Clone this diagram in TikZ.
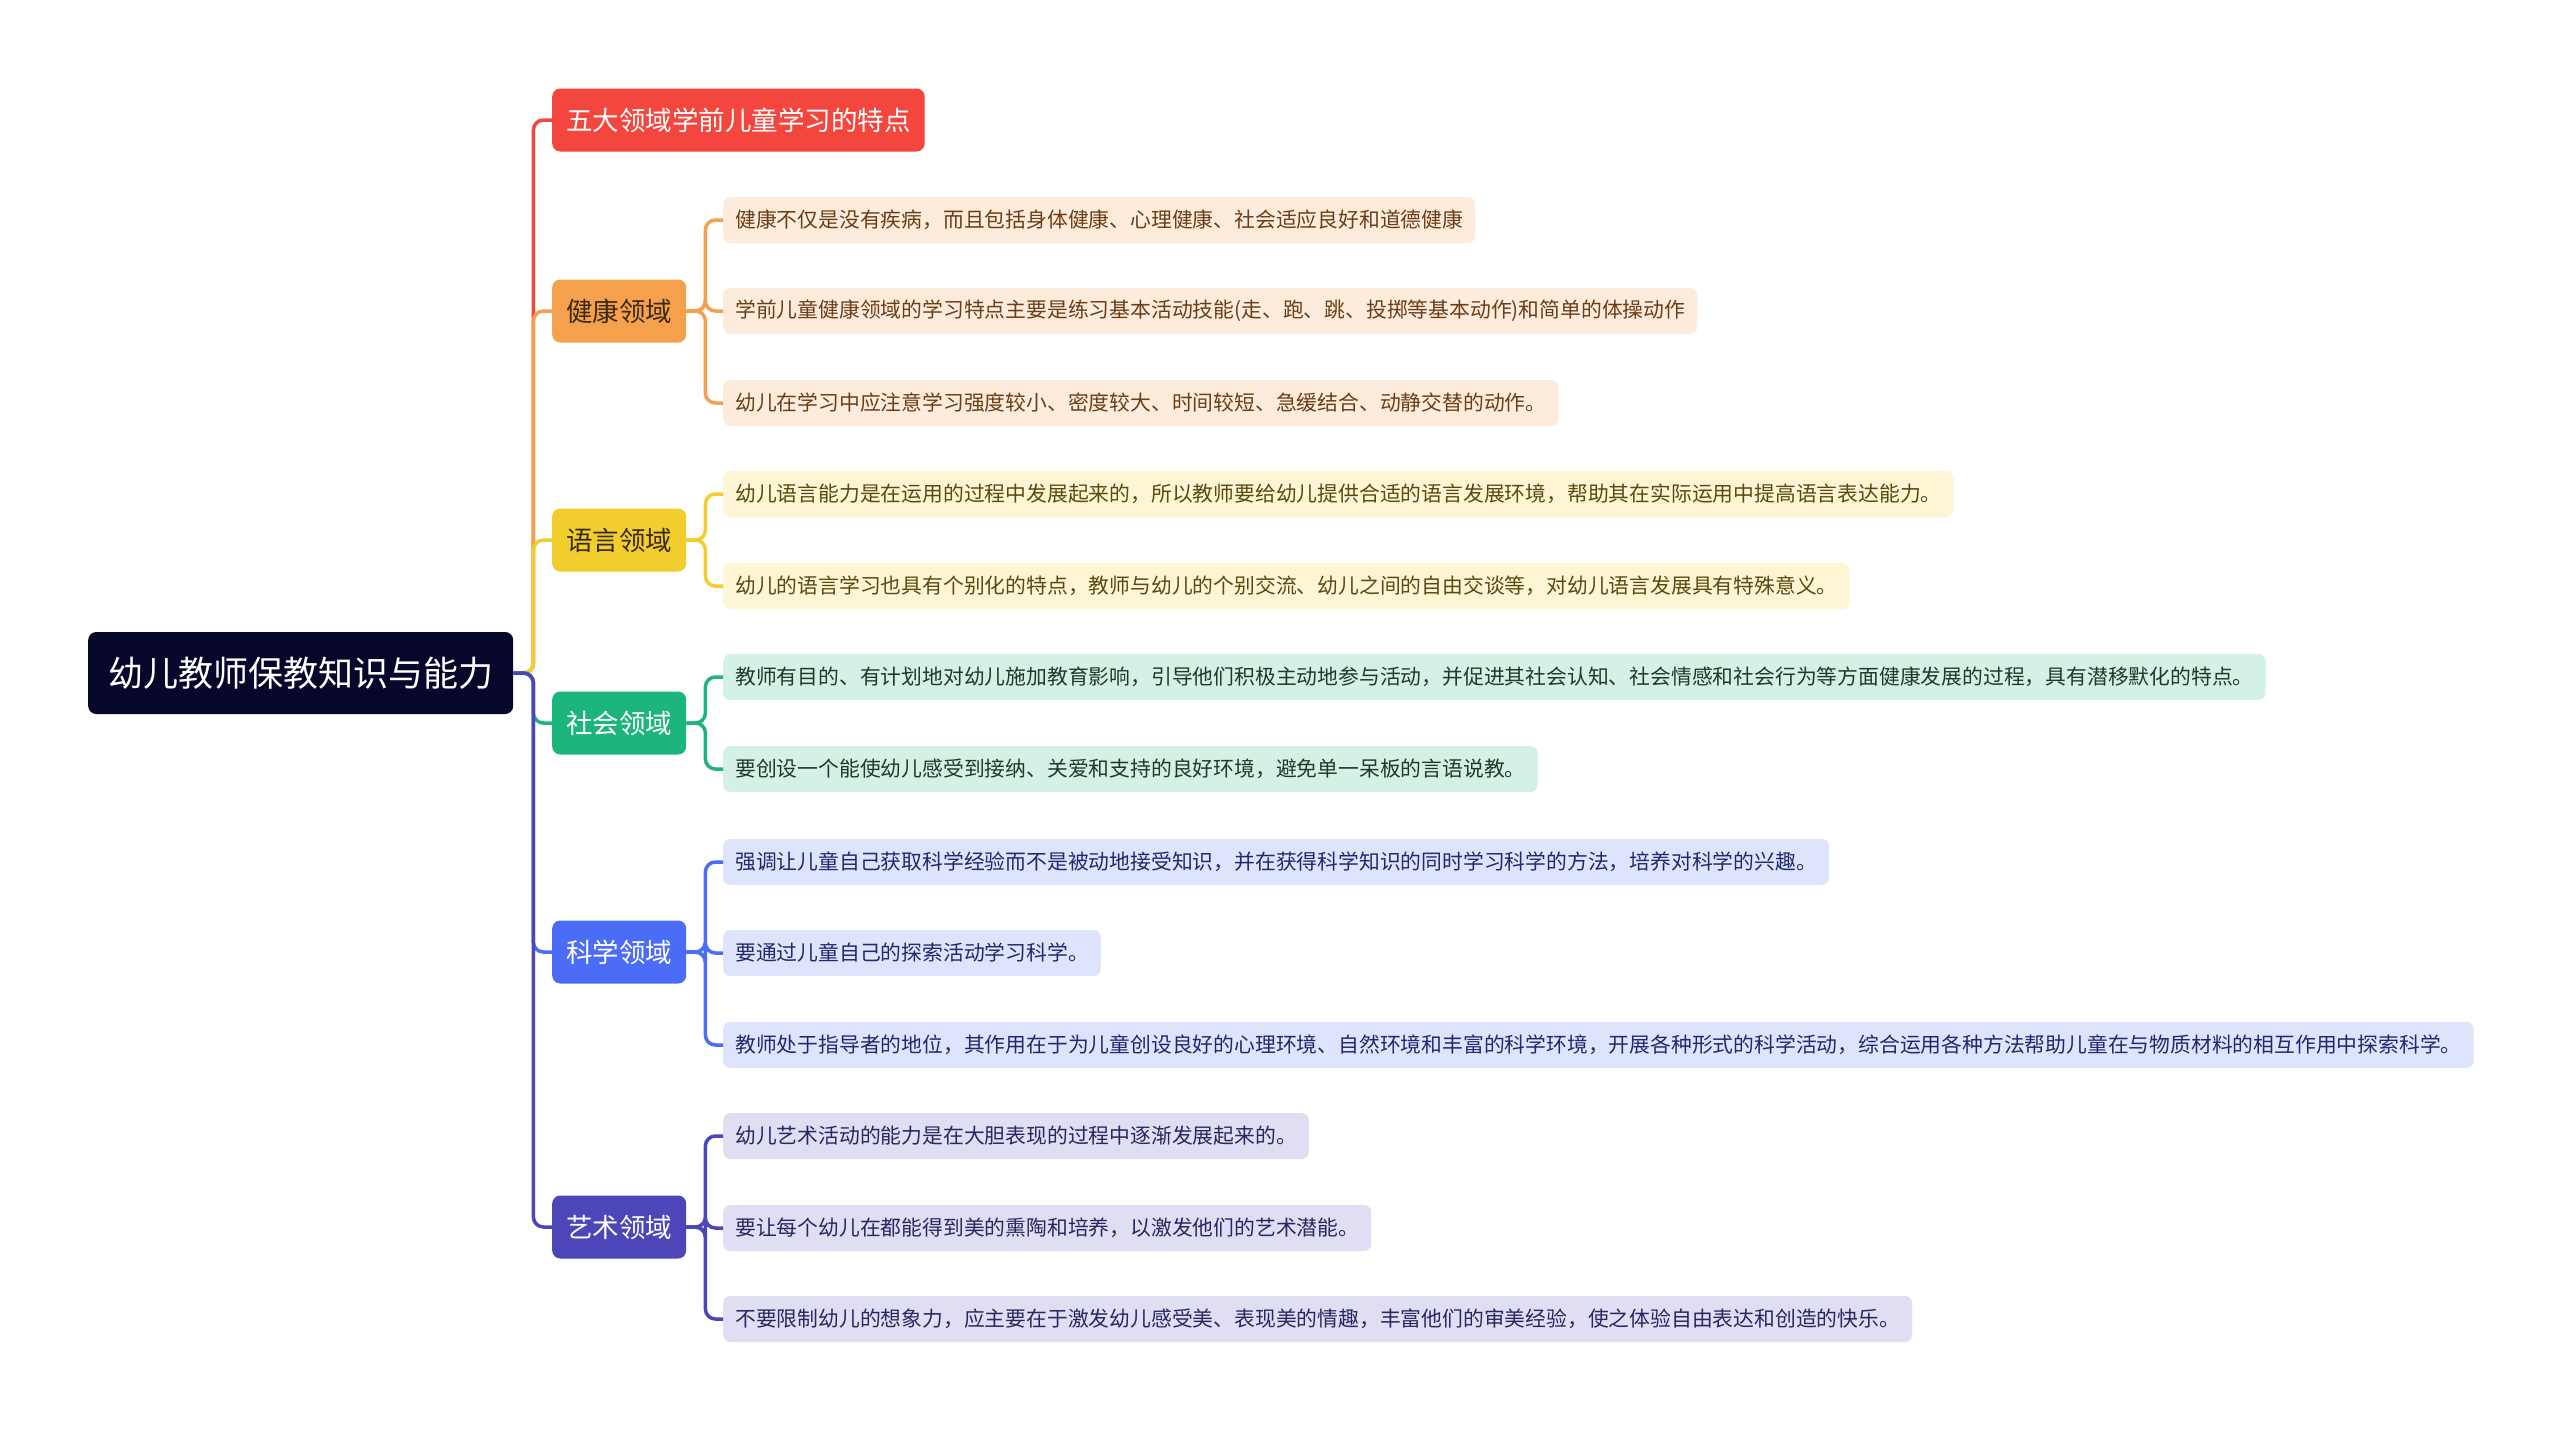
\documentclass[tikz,border=0pt]{standalone}
\usepackage{fontspec}
\setmainfont{Noto Sans CJK SC}
\usepackage{tikz}
\usetikzlibrary{positioning}

\definecolor{rootc}{HTML}{07072B}
\definecolor{redc}{HTML}{F3463E}
\definecolor{orangec}{HTML}{F5A04C}
\definecolor{yellowc}{HTML}{F1CD2D}
\definecolor{greenc}{HTML}{1CB57C}
\definecolor{bluec}{HTML}{4B6CF6}
\definecolor{indigoc}{HTML}{4C46B8}
\definecolor{hfill}{HTML}{FDEBDC}
\definecolor{lfill}{HTML}{FDF5D3}
\definecolor{sfill}{HTML}{D3F2E5}
\definecolor{kfill}{HTML}{DEE4FC}
\definecolor{afill}{HTML}{DFDEF3}
\definecolor{htext}{HTML}{6A3E17}
\definecolor{ltext}{HTML}{5A4A12}
\definecolor{stext}{HTML}{1E3A2C}
\definecolor{ktext}{HTML}{1F2A6B}
\definecolor{atext}{HTML}{2A2760}
\definecolor{darktext}{HTML}{3A2A12}

\begin{document}
\begin{tikzpicture}[x=1pt,y=-1pt,
  root/.style={fill=rootc,text=white,rounded corners=8pt,minimum height=82pt,inner xsep=20pt,anchor=west,font=\fontsize{35}{40}\selectfont},
  topic/.style={rounded corners=8pt,minimum height=63pt,inner xsep=14pt,anchor=west,font=\fontsize{26.5}{30}\selectfont},
  leaf/.style={rounded corners=7pt,minimum height=46pt,inner xsep=12pt,anchor=west,font=\fontsize{20.8}{24}\selectfont},
  hleaf/.style={leaf,fill=hfill,text=htext},
  lleaf/.style={leaf,fill=lfill,text=ltext},
  sleaf/.style={leaf,fill=sfill,text=stext},
  kleaf/.style={leaf,fill=kfill,text=ktext},
  aleaf/.style={leaf,fill=afill,text=atext},
  link/.style={line width=3.5pt,rounded corners=10pt}]
 \fill[white] (0,0) rectangle (2560,1430);
 \useasboundingbox (0,0) rectangle (2560,1430);
 % root and main topics
 \node[root] (root) at (88,673) {幼儿教师保教知识与能力};
 \node[topic,fill=redc,text=white] (title) at (552,120) {五大领域学前儿童学习的特点};
 \node[topic,fill=orangec,text=darktext] (health) at (552,311) {健康领域};
 \node[topic,fill=yellowc,text=darktext] (lang) at (552,540) {语言领域};
 \node[topic,fill=greenc,text=white] (social) at (552,723) {社会领域};
 \node[topic,fill=bluec,text=white] (science) at (552,952) {科学领域};
 \node[topic,fill=indigoc,text=white] (art) at (552,1227) {艺术领域};
 % leaves
 \node[hleaf] (h1) at (723,220) {健康不仅是没有疾病，而且包括身体健康、心理健康、社会适应良好和道德健康};
 \node[hleaf] (h2) at (723,311) {学前儿童健康领域的学习特点主要是练习基本活动技能(走、跑、跳、投掷等基本动作)和简单的体操动作};
 \node[hleaf] (h3) at (723,403) {幼儿在学习中应注意学习强度较小、密度较大、时间较短、急缓结合、动静交替的动作。};
 \node[lleaf] (l1) at (723,494) {幼儿语言能力是在运用的过程中发展起来的，所以教师要给幼儿提供合适的语言发展环境，帮助其在实际运用中提高语言表达能力。};
 \node[lleaf] (l2) at (723,586) {幼儿的语言学习也具有个别化的特点，教师与幼儿的个别交流、幼儿之间的自由交谈等，对幼儿语言发展具有特殊意义。};
 \node[sleaf] (s1) at (723,677) {教师有目的、有计划地对幼儿施加教育影响，引导他们积极主动地参与活动，并促进其社会认知、社会情感和社会行为等方面健康发展的过程，具有潜移默化的特点。};
 \node[sleaf] (s2) at (723,769) {要创设一个能使幼儿感受到接纳、关爱和支持的良好环境，避免单一呆板的言语说教。};
 \node[kleaf] (k1) at (723,862) {强调让儿童自己获取科学经验而不是被动地接受知识，并在获得科学知识的同时学习科学的方法，培养对科学的兴趣。};
 \node[kleaf] (k2) at (723,953) {要通过儿童自己的探索活动学习科学。};
 \node[kleaf] (k3) at (723,1045) {教师处于指导者的地位，其作用在于为儿童创设良好的心理环境、自然环境和丰富的科学环境，开展各种形式的科学活动，综合运用各种方法帮助儿童在与物质材料的相互作用中探索科学。};
 \node[aleaf] (a1) at (723,1136) {幼儿艺术活动的能力是在大胆表现的过程中逐渐发展起来的。};
 \node[aleaf] (a2) at (723,1228) {要让每个幼儿在都能得到美的熏陶和培养，以激发他们的艺术潜能。};
 \node[aleaf] (a3) at (723,1319) {不要限制幼儿的想象力，应主要在于激发幼儿感受美、表现美的情趣，丰富他们的审美经验，使之体验自由表达和创造的快乐。};
 % root links
 \draw[link,redc] (root.east) -- ++(20,0) |- (title.west);
 \draw[link,orangec] (root.east) -- ++(20,0) |- (health.west);
 \draw[link,yellowc] (root.east) -- ++(20,0) |- (lang.west);
 \draw[link,greenc] (root.east) -- ++(20,0) |- (social.west);
 \draw[link,bluec] (root.east) -- ++(20,0) |- (science.west);
 \draw[link,indigoc] (root.east) -- ++(20,0) |- (art.west);
 % leaf links
 \foreach \l in {h1,h2,h3} \draw[link,orangec] (health.east) -- ++(19,0) |- (\l.west);
 \foreach \l in {l1,l2} \draw[link,yellowc] (lang.east) -- ++(19,0) |- (\l.west);
 \foreach \l in {s1,s2} \draw[link,greenc] (social.east) -- ++(19,0) |- (\l.west);
 \foreach \l in {k1,k2,k3} \draw[link,bluec] (science.east) -- ++(19,0) |- (\l.west);
 \foreach \l in {a1,a2,a3} \draw[link,indigoc] (art.east) -- ++(19,0) |- (\l.west);
\end{tikzpicture}
\end{document}
